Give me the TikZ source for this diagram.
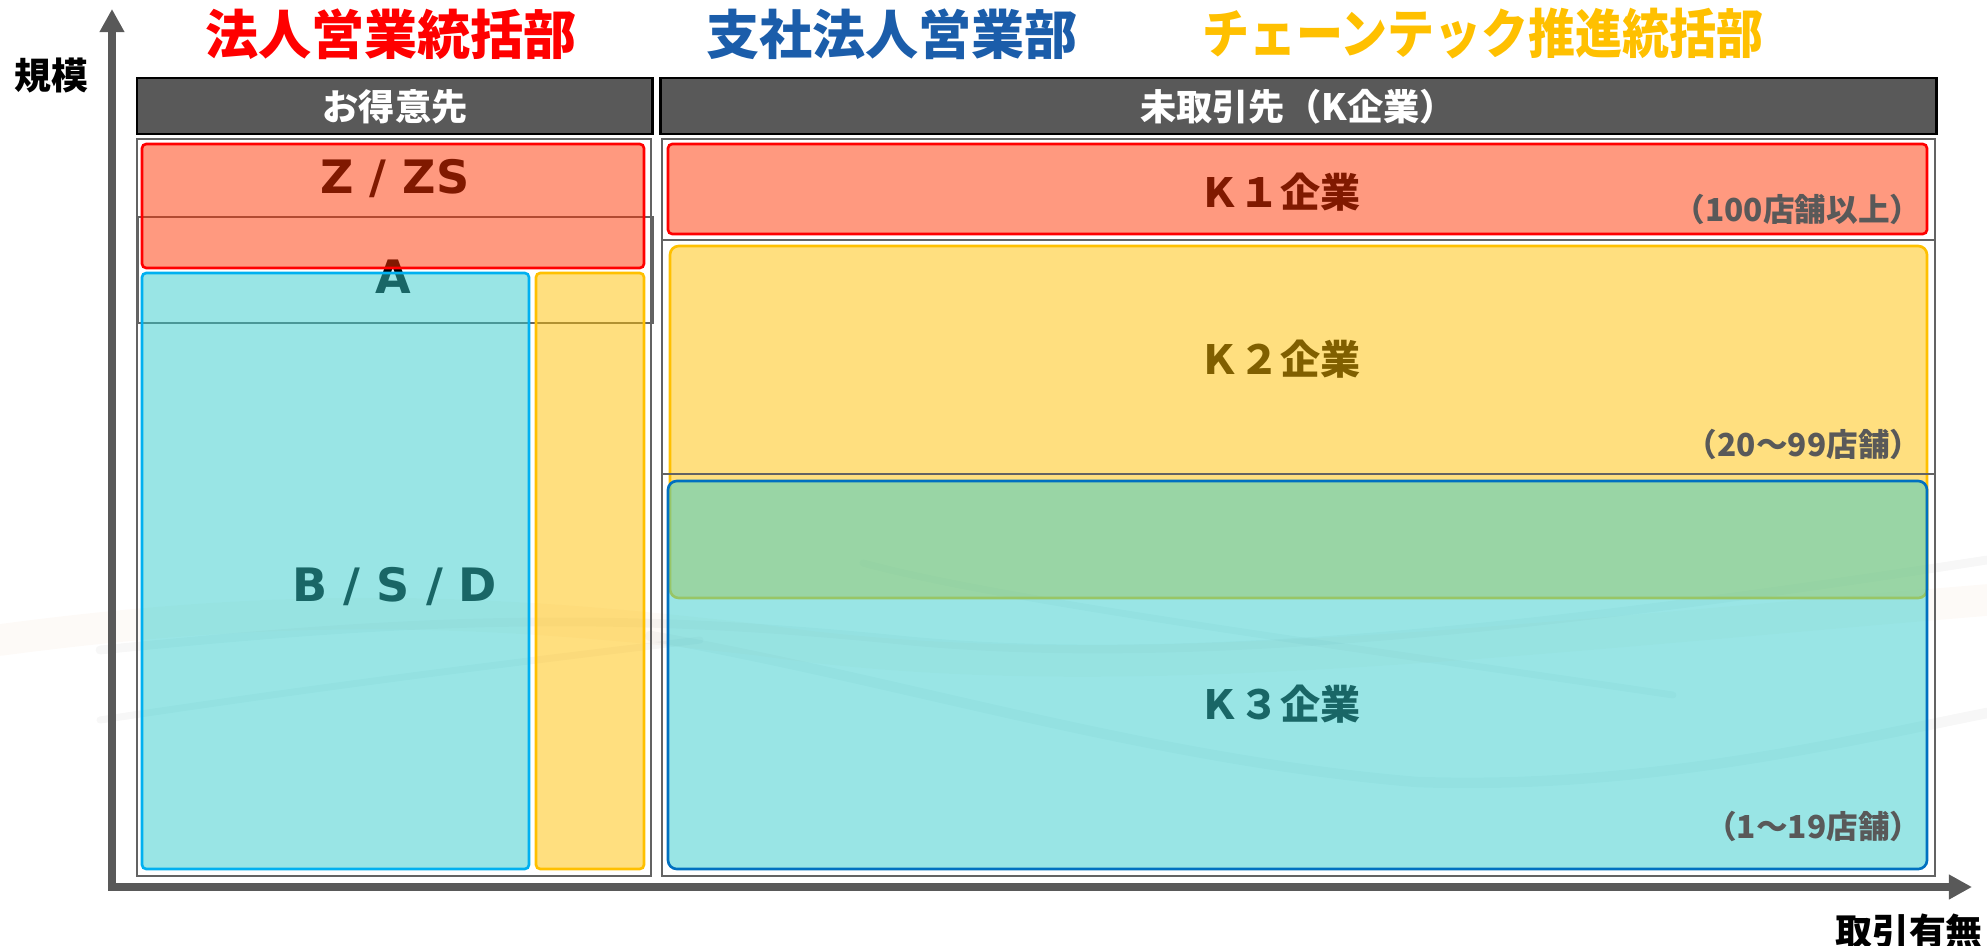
\documentclass[tikz,border=0pt]{standalone}
\usepackage{fontspec}
\setmainfont{DejaVu Sans}
\newfontfamily\jp{Noto Sans CJK JP}
\newfontfamily\lat{DejaVu Sans}
\usetikzlibrary{arrows.meta}
\definecolor{axisgray}{HTML}{595959}
\definecolor{hdrgray}{HTML}{595959}
\definecolor{framegray}{HTML}{636363}
\definecolor{notegray}{HTML}{595959}
\definecolor{redfill}{HTML}{FF3300}
\definecolor{redline}{HTML}{FF0000}
\definecolor{cyanfill}{HTML}{33CCCC}
\definecolor{cyanline}{HTML}{00B0F0}
\definecolor{orangefill}{HTML}{FFBF00}
\definecolor{orangeline}{HTML}{FFC000}
\definecolor{blueline}{HTML}{0070C0}
\definecolor{titlered}{HTML}{FF0000}
\definecolor{titleblue}{HTML}{1B5DAA}
\definecolor{titleorange}{HTML}{FFC000}
\definecolor{swirl}{HTML}{8A8A8A}
\definecolor{swirlwarm}{HTML}{E8B890}
\begin{document}
\begin{tikzpicture}[x=0.01cm,y=-0.01cm,
  frameline/.style={draw=framegray,line width=0.7pt},
  hdrbox/.style={draw=black,fill=hdrgray,line width=0.85pt},
  hdrtext/.style={inner sep=0pt,text=white,font=\jp\bfseries\fontsize{10.3pt}{11pt}\selectfont},
  colbox/.style={fill opacity=0.5,line width=0.75pt},
  latlbl/.style={inner sep=0pt,anchor=base,text=black,font=\lat\bfseries\fontsize{13.1pt}{14pt}\selectfont},
  klbl/.style={inner sep=0pt,text=black,font=\jp\bfseries\fontsize{11.4pt}{12pt}\selectfont},
  notelbl/.style={inner sep=0pt,anchor=east,text=notegray,font=\jp\bfseries\fontsize{9pt}{10pt}\selectfont},
  axlbl/.style={inner sep=0pt,text=black,font=\jp\bfseries\fontsize{10.5pt}{11pt}\selectfont},
  titlelbl/.style={inner sep=0pt,font=\jp\bfseries\fontsize{15.1pt}{16pt}\selectfont},
  axisline/.style={draw=axisgray,line width=2pt,line join=miter,
    {Triangle[length=6.6pt,width=6.7pt]}-{Triangle[length=6.6pt,width=6.7pt]}},
  swirlline/.style={draw=swirl,line cap=round,draw opacity=0.07}
]
\useasboundingbox (0,0) rectangle (1987,945);

% faint background swoosh
\draw[swirlwarm,line width=9pt,draw opacity=0.07,line cap=round]
  (0,640) .. controls (300,600) and (500,610) .. (760,640)
  .. controls (1100,690) and (1500,640) .. (1987,600);
\draw[swirlline,line width=2.5pt]
  (100,650) .. controls (400,620) and (600,610) .. (900,640)
  .. controls (1200,670) and (1600,620) .. (1987,560);
\draw[swirlline,line width=3pt]
  (650,636) .. controls (900,680) and (1150,760) .. (1417,782)
  .. controls (1650,790) and (1850,740) .. (1987,713);
\draw[swirlline,line width=2pt]
  (863,563) .. controls (1000,600) and (1300,640) .. (1673,695);
\draw[swirlline,line width=2pt]
  (100,720) .. controls (300,690) and (450,670) .. (700,640);

% A band frame (under the boxes)
\draw[frameline] (138,217) rectangle (653,323);

% black labels under the translucent boxes
\node[latlbl] (zzs) at (395,193) {Z / ZS};
\node[latlbl] (albl) at (393,293) {A};
\node[latlbl] (bsd) at (395,601) {B / S / D};
\node[klbl] (k1) at (1280,192) {Ｋ１企業};
\node[klbl] (k2) at (1280,359) {Ｋ２企業};
\node[klbl] (k3) at (1280,704) {Ｋ３企業};

% translucent boxes
\draw[colbox,fill=redfill,draw=redline,rounded corners=1.2pt] (142,144) rectangle (644,268);
\draw[colbox,fill=cyanfill,draw=cyanline,rounded corners=1.2pt] (142,273) rectangle (529,869);
\draw[colbox,fill=orangefill,draw=orangeline,rounded corners=1.2pt] (536,273) rectangle (644,869);
\draw[colbox,fill=redfill,draw=redline,rounded corners=1.2pt] (668,144) rectangle (1927,234);
\draw[colbox,fill=orangefill,draw=orangeline,rounded corners=2.5pt] (670,246) rectangle (1927,598);
\draw[colbox,fill=cyanfill,draw=blueline,rounded corners=2.5pt] (668,481) rectangle (1927,869);

% column frames
\draw[frameline] (137,139) rectangle (651,876);
\draw[frameline] (662,139) rectangle (1935,240);
\draw[frameline] (662,240) rectangle (1935,474);
\draw[frameline] (662,474) rectangle (1935,876);

% headers
\draw[hdrbox] (137,78) rectangle (652,134);
\draw[hdrbox] (660,78) rectangle (1936,134);
\node[hdrtext] (h1) at (395,107) {お得意先};
\node[hdrtext] (h2) at (1298,107) {未取引先（K企業）};

% store-count notes
\node[notelbl] (n1) at (1922,209) {（100店舗以上）};
\node[notelbl] (n2) at (1922,444) {（20〜99店舗）};
\node[notelbl] (n3) at (1922,826) {（1〜19店舗）};

% axes
\coordinate (ytip) at (112,9);
\coordinate (origin) at (112,887);
\coordinate (xtip) at (1972,887);
\draw[axisline] (ytip) -- (origin) -- (xtip);
\node[axlbl] (ylab) at (51,76) {規模};
\node[axlbl] (xlab) at (1909,931) {取引有無};

% titles
\node[titlelbl,text=titlered] (t1) at (391,34) {法人営業統括部};
\node[titlelbl,text=titleblue] (t2) at (892,34) {\makebox[3.7cm]{支\hfill 社\hfill 法\hfill 人\hfill 営\hfill 業\hfill 部}};
\node[titlelbl,text=titleorange] (t3) at (1483,34) {\scalebox{0.885}[1]{チェーンテック推進統括部}};
\end{tikzpicture}
\end{document}
